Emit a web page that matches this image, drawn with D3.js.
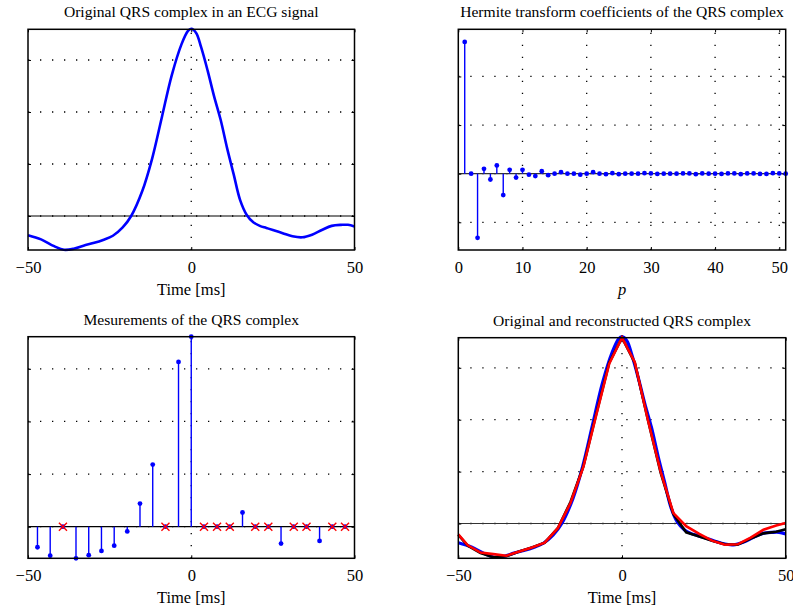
<!DOCTYPE html>
<html>
  <head>
    <meta charset="utf-8">
    <title>QRS complex - Hermite transform</title>
    <script src="https://d3js.org/d3.v7.min.js"></script>
    <style>
      body { margin: 0; background: #fff; }
      text { font-family: "Liberation Serif", "Times New Roman", serif; font-size: 16.5px; fill: #000; }
      .title { font-size: 15.6px; }
      .axis path { display: none; }
      .axis line { stroke: #000; stroke-width: 1; }
      .grid { stroke: #000; stroke-width: 1.3; stroke-dasharray: 1.3,10.7; fill: none; }
    </style>
  </head>
  <body>
    <script>

      // original QRS complex (key points), time in ms
      var origT = [-50, -46, -42, -39, -36, -33, -30, -27, -24, -21, -18.4, -15, -12, -9, -6, -3, -1, 0, 1.5, 3, 5, 7, 9, 11, 13, 15, 17, 19, 21, 23, 25, 28, 31, 34, 37, 40, 43, 46, 48, 50];
      var origV = [-0.37, -0.45, -0.58, -0.65, -0.63, -0.57, -0.52, -0.46, -0.38, -0.22, 0, 0.48, 1.1, 1.9, 2.7, 3.3, 3.56, 3.6, 3.52, 3.25, 2.8, 2.3, 1.85, 1.3, 0.8, 0.3, 0.02, -0.12, -0.19, -0.23, -0.27, -0.33, -0.39, -0.41, -0.36, -0.27, -0.19, -0.17, -0.17, -0.2];

      // Hermite coefficients, p = 1..51
      var coefP = d3.range(1, 52);
      var coefV = [2.71, 0, -1.32, 0.10, -0.12, 0.17, -0.44, 0.08, -0.08, 0.08,
                   -0.02, -0.05, 0.05, -0.03, 0, 0.03, 0, 0, -0.02, 0,
                   0.03, 0, -0.01, 0.01, -0.01, 0, 0, 0, 0.01, 0.005,
                   -0.005, 0, 0, 0, 0.005, 0.005, -0.01, 0.005, 0, 0,
                   -0.005, 0.005, 0.005, -0.01, 0.005, 0.005, -0.005, -0.005, 0.01, 0.005, 0];

      // measurements (samples of the QRS), 1 = kept, 0 = missing (red x)
      var sampT = [-47.1, -43.2, -39.3, -35.3, -31.4, -27.5, -23.6, -19.6, -15.7, -11.8, -7.9, -3.9, 0, 3.9, 7.9, 11.8, 15.7, 19.6, 23.6, 27.5, 31.4, 35.3, 39.3, 43.2, 47.1];
      var sampV = [-0.39, -0.55, -0.64, -0.60, -0.54, -0.46, -0.36, -0.09, 0.44, 1.18, 2.2, 3.13, 3.61, 3.05, 2.1, 1.1, 0.27, -0.13, -0.24, -0.32, -0.39, -0.40, -0.27, -0.18, -0.17];
      var sampKept = [1, 1, 0, 1, 1, 1, 1, 1, 1, 1, 0, 1, 1, 0, 0, 0, 1, 0, 0, 1, 0, 0, 1, 0, 0];

      // reconstructions, drawn on the sample grid plus the two ends
      var recT = [-50].concat(sampT, [50]);
      var blackV = [-0.22, -0.43, -0.57, -0.65, -0.63, -0.54, -0.46, -0.37, -0.09, 0.42, 1.1, 2.1, 3.1, 3.58, 3.1, 2.0, 0.98, 0.18, -0.17, -0.25, -0.33, -0.40, -0.41, -0.29, -0.19, -0.16, -0.11];
      var redV = [-0.21, -0.42, -0.56, -0.59, -0.62, -0.54, -0.46, -0.37, -0.09, 0.40, 1.09, 2.08, 3.08, 3.58, 3.11, 2.0, 1.0, 0.2, -0.05, -0.2, -0.33, -0.41, -0.40, -0.27, -0.12, -0.04, 0.01];

      var timeTicks = [-50, 0, 50];
      var pTicks = [0, 10, 20, 30, 40, 50];

      var svg = d3.select("body").append("svg")
        .attr("width", 793)
        .attr("height", 607);

      function panel(cfg) {
        var g = svg.append("g");
        var x = d3.scaleLinear().domain(cfg.xDomain).range([cfg.left, cfg.right]);
        var y = d3.scaleLinear().domain(cfg.yDomain).range([cfg.bottom, cfg.top]);

        // dotted grid
        g.selectAll(".gy").data(cfg.yTicks).enter().append("line")
          .attr("class", "grid")
          .attr("x1", cfg.left).attr("x2", cfg.right)
          .attr("y1", function (d){ return y(d); }).attr("y2", function (d){ return y(d); });
        g.selectAll(".gx").data(cfg.xGrid).enter().append("line")
          .attr("class", "grid")
          .attr("y1", cfg.bottom).attr("y2", cfg.top)
          .attr("x1", function (d){ return x(d); }).attr("x2", function (d){ return x(d); });

        // zero line
        g.append("line")
          .attr("x1", cfg.left).attr("x2", cfg.right)
          .attr("y1", y(0)).attr("y2", y(0))
          .attr("stroke", cfg.zeroColor || "#000").attr("stroke-width", 1.2);

        // inward ticks on all four sides
        g.append("g").attr("class", "axis").attr("transform", "translate(0," + cfg.bottom + ")")
          .call(d3.axisBottom(x).tickValues(cfg.xTicks).tickSizeInner(-3).tickSizeOuter(0).tickPadding(11)
            .tickFormat(d3.format("d")));
        g.append("g").attr("class", "axis").attr("transform", "translate(0," + cfg.top + ")")
          .call(d3.axisTop(x).tickValues(cfg.xTicks).tickSizeInner(-3).tickSizeOuter(0).tickFormat(""));
        g.append("g").attr("class", "axis").attr("transform", "translate(" + cfg.left + ",0)")
          .call(d3.axisLeft(y).tickValues(cfg.yTicks).tickSizeInner(-3).tickSizeOuter(0).tickFormat(""));
        g.append("g").attr("class", "axis").attr("transform", "translate(" + cfg.right + ",0)")
          .call(d3.axisRight(y).tickValues(cfg.yTicks).tickSizeInner(-3).tickSizeOuter(0).tickFormat(""));
        g.selectAll(".axis").attr("font-size", null).attr("font-family", null);

        // titles
        var cx = (cfg.left + cfg.right) / 2;
        g.append("text").attr("class", "title").attr("x", cx).attr("y", cfg.top - 12)
          .attr("text-anchor", "middle").text(cfg.title);
        g.append("text").attr("x", cx).attr("y", cfg.bottom + 45)
          .attr("text-anchor", "middle")
          .style("font-style", cfg.xItalic ? "italic" : "normal")
          .text(cfg.xLabel);

        var plot = g.append("g");
        // box drawn last
        g.append("rect")
          .attr("x", cfg.left).attr("y", cfg.top)
          .attr("width", cfg.right - cfg.left).attr("height", cfg.bottom - cfg.top)
          .attr("fill", "none").attr("stroke", "#000").attr("stroke-width", 1.5);

        return { g: plot, x: x, y: y };
      }

      var line = function (xs, ys, px) {
        return d3.line()
          .x(function (d){ return px.x(xs[d]); })
          .y(function (d){ return px.y(ys[d]); });
      };

      // --- panel 1: original signal
      var p1 = panel({ left: 28, right: 354.5, top: 29.3, bottom: 250,
        xDomain: [-50, 50], yDomain: [-0.654, 3.59], xTicks: timeTicks, xGrid: [0], yTicks: [0, 1, 2, 3],
        title: "Original QRS complex in an ECG signal", xLabel: "Time [ms]" });
      p1.g.append("path")
        .attr("d", line(origT, origV, p1).curve(d3.curveCatmullRom)(d3.range(origT.length)))
        .attr("fill", "none").attr("stroke", "#0000ff").attr("stroke-width", 2.6);

      // --- panel 2: Hermite coefficients (stem plot)
      var p2 = panel({ left: 458.3, right: 785.7, top: 29.3, bottom: 250,
        xDomain: [0, 51], yDomain: [-1.57, 2.97], xTicks: pTicks, xGrid: [10, 20, 30, 40, 50], yTicks: [-1, 0, 1, 2],
        title: "Hermite transform coefficients of the QRS complex", xLabel: "p", xItalic: true, zeroColor: "#333" });
      p2.g.selectAll(".stem").data(coefP).enter().append("line")
        .attr("x1", function (d){ return p2.x(d); }).attr("x2", function (d){ return p2.x(d); })
        .attr("y1", p2.y(0)).attr("y2", function (d, i){ return p2.y(coefV[i]); })
        .attr("stroke", "#0000ff").attr("stroke-width", 1.4);
      p2.g.selectAll(".dot").data(coefP).enter().append("circle")
        .attr("cx", function (d){ return p2.x(d); })
        .attr("cy", function (d, i){ return p2.y(coefV[i]); })
        .attr("r", 2.4).attr("fill", "#0000ff");

      // --- panel 3: measurements
      var p3 = panel({ left: 28, right: 354.5, top: 336.7, bottom: 558.3,
        xDomain: [-50, 50], yDomain: [-0.6, 3.61], xTicks: timeTicks, xGrid: [0], yTicks: [0, 1, 2, 3],
        title: "Mesurements of the QRS complex", xLabel: "Time [ms]" });
      var shown = function (i){ return sampKept[i] ? sampV[i] : 0; };
      p3.g.selectAll(".stem").data(sampT).enter().append("line")
        .attr("x1", function (d){ return p3.x(d); }).attr("x2", function (d){ return p3.x(d); })
        .attr("y1", p3.y(0)).attr("y2", function (d, i){ return p3.y(shown(i)); })
        .attr("stroke", "#0000ff").attr("stroke-width", 1.4);
      p3.g.selectAll(".dot").data(sampT).enter().append("circle")
        .attr("cx", function (d){ return p3.x(d); })
        .attr("cy", function (d, i){ return p3.y(shown(i)); })
        .attr("r", 2.4).attr("fill", "#0000ff");
      var missing = sampT.filter(function (d, i){ return !sampKept[i]; });
      var cross = d3.symbol().type(d3.symbolX).size(44);
      p3.g.selectAll(".miss").data(missing).enter().append("path")
        .attr("transform", function (d){ return "translate(" + p3.x(d) + "," + p3.y(0) + ")"; })
        .attr("d", cross)
        .attr("fill", "none").attr("stroke", "#ff0000").attr("stroke-width", 1.4);

      // --- panel 4: original and reconstructed
      var p4 = panel({ left: 458.3, right: 785.7, top: 337.7, bottom: 558.3,
        xDomain: [-50, 50], yDomain: [-0.67, 3.58], xTicks: timeTicks, xGrid: [0], yTicks: [0, 1, 2, 3],
        title: "Original and reconstructed QRS complex", xLabel: "Time [ms]", zeroColor: "#333" });
      p4.g.append("path")
        .attr("d", line(origT, origV, p4).curve(d3.curveCatmullRom)(d3.range(origT.length)))
        .attr("fill", "none").attr("stroke", "#0000ff").attr("stroke-width", 3.2);
      p4.g.append("path")
        .attr("d", line(recT, blackV, p4)(d3.range(recT.length)))
        .attr("fill", "none").attr("stroke", "#000").attr("stroke-width", 2.6);
      p4.g.append("path")
        .attr("d", line(recT, redV, p4)(d3.range(recT.length)))
        .attr("fill", "none").attr("stroke", "#ff0000").attr("stroke-width", 2.6);

    </script>
  </body>
</html>
